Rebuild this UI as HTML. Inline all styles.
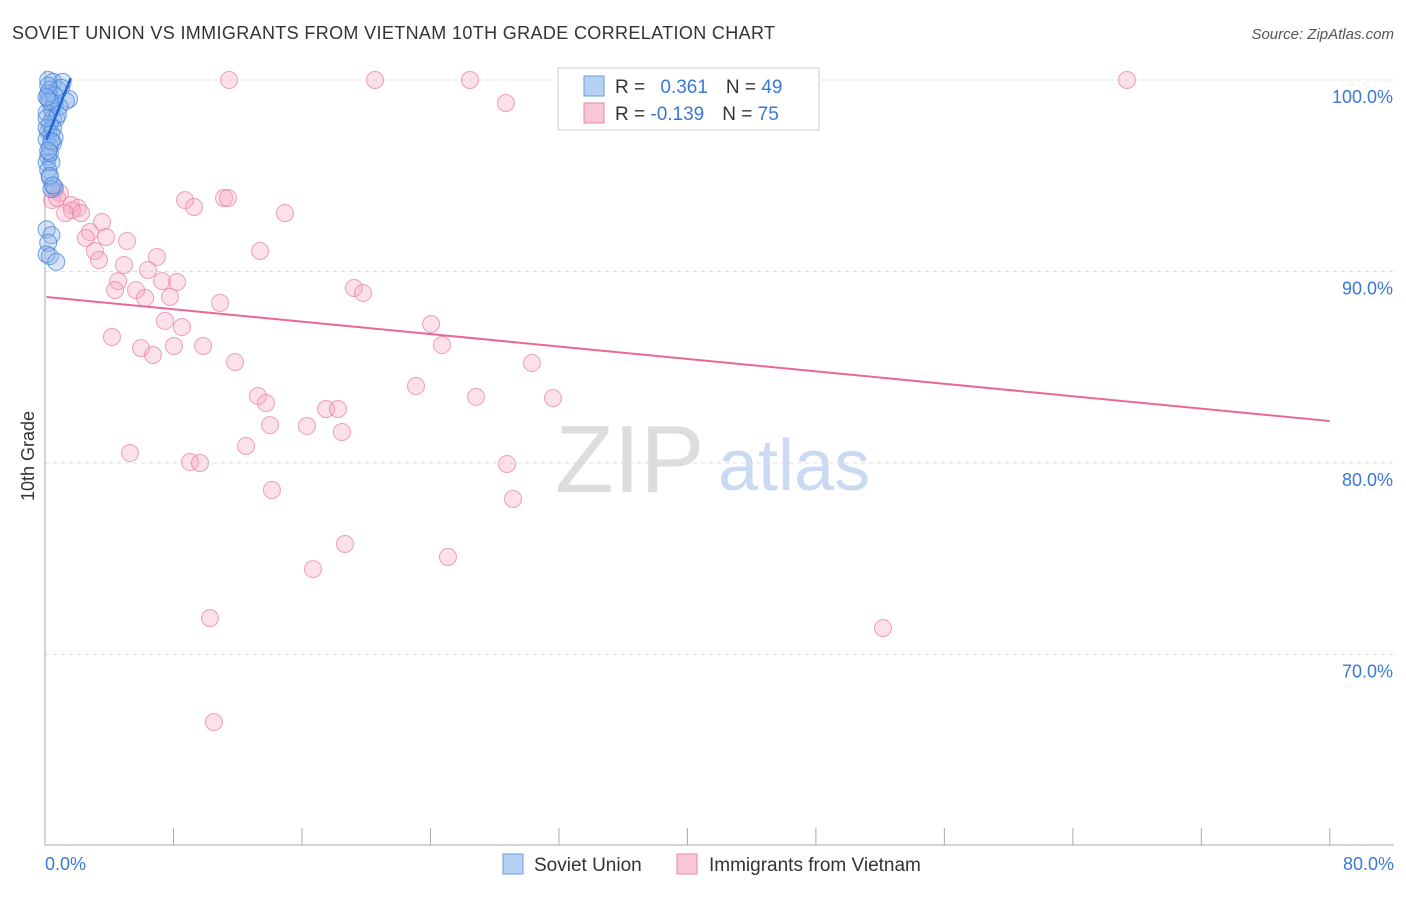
<!DOCTYPE html>
<html><head><meta charset="utf-8"><style>
body{margin:0;background:#fff;font-family:"Liberation Sans",sans-serif}
svg text{font-family:"Liberation Sans",sans-serif}
</style></head><body>
<svg id="c" width="1406" height="892">
<text x="12" y="39" font-size="18" fill="#333" textLength="763">SOVIET UNION VS IMMIGRANTS FROM VIETNAM 10TH GRADE CORRELATION CHART</text>
<text x="1394" y="39" font-size="15" fill="#555" text-anchor="end" font-style="italic">Source: ZipAtlas.com</text>
<text x="34" y="456" font-size="18" fill="#333" text-anchor="middle" transform="rotate(-90 34 456)">10th Grade</text>
<text x="555" y="492" font-size="96" fill="#ddd" font-family="Liberation Serif">ZIP</text>
<text x="718" y="490" font-size="72" fill="#c9daf2">atlas</text>
<g id="grid"></g><g id="pts"></g>
<g>
<rect x="558" y="68" width="261" height="62" fill="#fff" stroke="#ccc"/>
<rect x="584" y="76" width="20" height="20" fill="#b7d1f3" stroke="#6a9de0"/>
<rect x="584" y="103" width="20" height="20" fill="#f9c6d5" stroke="#e888a8"/>
<text x="615" y="93" font-size="19" fill="#333">R = <tspan fill="#3a78d8" dx="10">0.361</tspan><tspan fill="#333" dx="18">N = </tspan><tspan fill="#3a78d8">49</tspan></text>
<text x="615" y="120" font-size="19" fill="#333">R = <tspan fill="#3a78d8">-0.139</tspan><tspan fill="#333" dx="18">N = </tspan><tspan fill="#3a78d8">75</tspan></text>
</g>
<g>
<rect x="503" y="854" width="20" height="20" fill="#b7d1f3" stroke="#6a9de0"/>
<text x="534" y="871" font-size="19" fill="#333">Soviet Union</text>
<rect x="677" y="854" width="20" height="20" fill="#f9c6d5" stroke="#e888a8"/>
<text x="709" y="871" font-size="19" fill="#333">Immigrants from Vietnam</text>
</g>
</svg>
<script>
const xTicks=[0,8,16,24,32,40,48,56,64,72,80];
const yTicks=[70,80,90,100];
const blueX=[0.2,0.5,1.1,0.3,0.8,1.0,1.5,0.2,0.6,0.4,0.1,0.5,0.7,0.3,0.2,0.4,0.1,0.5,0.3,0.2,0.1,0.4,0.2,0.3,0.6,0.4,0.1,0.4,0.2,0.1,0.3,0.7,1.3,0.9,0.2,0.6,0.1,0.3,0.8,0.5,0.2,0.3,0.1,0.6,0.4,0.2,0.3,0.5,0.1];
const blueY=[100,99.9,99.9,99.5,99.5,99.6,99.0,99.0,98.8,98.5,98.3,98.0,98.0,97.7,97.3,97.2,96.9,96.7,96.5,96.0,95.7,95.7,95.3,94.9,94.4,94.3,92.2,91.9,91.5,90.9,90.8,90.5,98.9,98.6,99.3,99.2,97.5,96.2,98.2,97.5,99.7,98.9,98.0,97.0,96.8,96.3,95.0,94.5,99.1];
const pinkX=[11.46,20.55,26.46,43.09,67.37,28.70,0.62,0.93,0.44,0.75,8.72,9.28,11.15,11.39,1.62,2.05,1.68,1.25,2.24,3.55,14.94,2.80,2.55,3.80,5.11,13.39,3.11,3.36,6.97,4.92,6.41,4.55,7.29,8.22,4.36,5.67,6.23,7.78,19.24,19.80,10.90,7.47,8.53,24.04,4.17,5.98,6.72,8.03,9.84,24.72,11.83,30.32,23.10,13.26,13.76,26.84,31.63,17.50,18.24,14.01,16.31,18.49,12.52,5.29,9.03,9.65,28.77,14.13,29.14,18.68,25.09,16.69,10.27,52.18,10.52];
const pinkY=[100,100,100,100,100,98.8,94.26,94.1,93.73,93.84,93.73,93.37,93.84,93.84,93.47,93.32,93.2,93.05,93.05,92.58,93.05,92.06,91.75,91.8,91.59,91.07,91.07,90.6,90.76,90.34,90.08,89.5,89.5,89.45,89.03,89.03,88.62,88.67,89.14,88.88,88.36,87.42,87.1,87.26,86.58,86.0,85.64,86.11,86.11,86.16,85.27,85.22,84.02,83.5,83.13,83.45,83.39,82.82,82.82,81.98,81.93,81.62,80.89,80.52,80.05,80.0,79.95,78.59,78.12,75.77,75.09,74.46,71.9,71.38,66.47];
const blueLine=[[0.1,96.9],[1.6,100.1]];
const pinkLine=[[0.1,88.67],[80,82.19]];
const X=v=>45+v*16.06, Y=v=>80+(100-v)*19.15;
const NS='http://www.w3.org/2000/svg';
const g=document.getElementById('grid'), p=document.getElementById('pts');
function mk(tag,at,par){const e=document.createElementNS(NS,tag);for(const k in at)e.setAttribute(k,at[k]);par.appendChild(e);return e;}
yTicks.forEach(t=>{
 const l=mk('line',{x1:45,x2:1394,y1:Y(t),y2:Y(t),stroke:'#ddd','stroke-dasharray':'4,4'},g);
 
 
 const tx=mk('text',{x:1393,y:Y(t)+23,'font-size':18,fill:'#3a78d8','text-anchor':'end'},g);
 tx.textContent=t.toFixed(1)+'%';
 
 
});
const ax=mk('line',{x1:45,x2:45,y1:70,y2:845,stroke:'#aaa'},g);


const bx=mk('line',{x1:45,x2:1394,y1:845,y2:845,stroke:'#aaa'},g);


xTicks.forEach(t=>{
 const l=mk('line',{x1:X(t),x2:X(t),y1:828,y2:845,stroke:'#aaa'},g);
 
 
});
[[0,'start',45],[80,'end',1394]].forEach(([t,a,xx])=>{
 const tx=mk('text',{x:xx,y:870,'font-size':18,fill:'#3a78d8','text-anchor':a},g);
 tx.textContent=t.toFixed(1)+'%';
 
 
});
pinkX.forEach((v,i)=>{
 const c=mk('circle',{cx:X(v),cy:Y(pinkY[i]),r:8.5,fill:'rgba(246,170,195,0.35)',stroke:'rgba(232,130,165,0.75)','stroke-width':1},p);
 
 
});
blueX.forEach((v,i)=>{
 const c=mk('circle',{cx:X(v),cy:Y(blueY[i]),r:8.5,fill:'rgba(140,180,236,0.35)',stroke:'rgba(70,130,220,0.75)','stroke-width':1},p);
 
 
});
const pl=mk('line',{x1:X(pinkLine[0][0]),y1:Y(pinkLine[0][1]),x2:X(pinkLine[1][0]),y2:Y(pinkLine[1][1]),stroke:'#e8679a','stroke-width':2},p);


const bl=mk('line',{x1:X(blueLine[0][0]),y1:Y(blueLine[0][1]),x2:X(blueLine[1][0]),y2:Y(blueLine[1][1]),stroke:'#1f66d6','stroke-width':2.5},p);


</script>
</body></html>
